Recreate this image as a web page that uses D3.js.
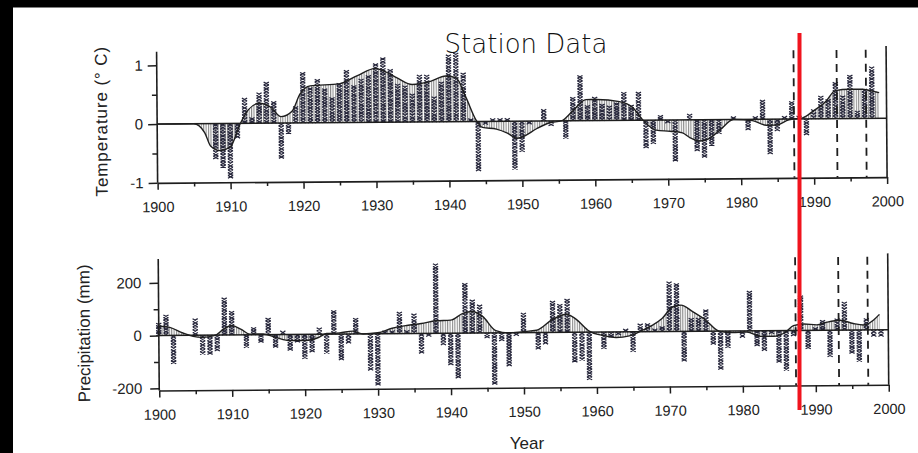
<!DOCTYPE html>
<html>
<head>
<meta charset="utf-8">
<script src="https://cdn.jsdelivr.net/npm/d3@7"></script>
<style>
  body { margin: 0; background: #fff; }
  text { font-family: "Liberation Sans", Arial, sans-serif; fill: #222; }
</style>
</head>
<body>
<svg id="chart" width="918" height="453"></svg>
<script>
// yearly values, 1900..1999
var years = d3.range(1900, 2000);

var tempValues = [
  0, 0, 0, 0, 0, 0, 0, 0, -0.60, -0.75,
  -0.93, -0.25, 0.43, 0.10, 0.52, 0.70, 0.37, -0.60, -0.18, 0.28,
  0.86, 0.60, 0.74, 0.58, 0.43, 0.67, 0.89, 0.63, 0.74, 0.80,
  1.00, 1.10, 0.90, 0.65, 0.62, 0.48, 0.80, 0.80, 0.43, 0.68,
  1.14, 1.17, 0.83, 0.05, -0.84, -0.05, 0.05, 0.05, 0.03, -0.82,
  -0.52, -0.04, 0, 0.20, -0.08, 0, -0.30, 0.40, 0.77, 0.26,
  0.40, 0.28, 0.25, 0.30, 0.48, 0.26, 0.48, -0.47, -0.40, 0.08,
  -0.05, -0.70, 0, 0.10, -0.53, -0.64, -0.44, -0.24, 0, 0.03,
  0, -0.18, 0.04, 0.33, -0.59, -0.20, 0.02, 0.30, 0.05, -0.27,
  0.16, 0.39, 0.33, 0.62, 0.39, 0.74, 0.13, 0.50, 0.88, 0
];

var precipValues = [
  47, 78, -107, 0, 0, 63, -73, -73, -60, 141,
  90, 0, -48, 28, -29, 63, -48, 15, -60, -29,
  -92, -67, 25, -73, 90, -98, -35, 60, 0, -138,
  -195, 5, 12, 82, 13, 75, -75, -5, 264, -44,
  -120, -170, 189, 126, 107, -19, -195, -30, -126, -5,
  75, 0, -63, -44, 119, 107, 126, -113, -107, -180,
  0, -63, -19, -10, 10, -75, 30, 31, 10, 19,
  189, 182, -113, 50, 50, 82, -50, -145, -63, 0,
  -25, 151, -57, -75, -10, -120, -151, -20, 132, -69,
  5, 38, -100, 44, 107, -88, -119, 44, -25, -25
];

// smoothed curves
var tempSmoothYears = [1900, 1905, 1906.5, 1907.3, 1908.6, 1910, 1911.4, 1912.5, 1914, 1915.5,
  1917, 1918.5, 1919.6, 1921, 1925, 1927.5, 1930, 1931, 1933, 1935, 1937.5, 1939.6, 1941,
  1942.4, 1943.7, 1944.6, 1946.5, 1948, 1949.3, 1950.2, 1952, 1953.8, 1955.4, 1957, 1958.8,
  1960.2, 1963.4, 1965.2, 1966.6, 1968.4, 1970.3, 1972, 1973, 1974.4, 1975.5, 1977.1, 1979,
  1981.6, 1983.5, 1984.8, 1986.6, 1988.5, 1989.9, 1991.7, 1993, 1994.9, 1996.7, 1998.6, 1999];
var tempSmooth = [0, 0, -0.15, -0.38, -0.46, -0.40, 0, 0.23, 0.34, 0.28,
  0.11, 0.20, 0.49, 0.63, 0.66, 0.80, 0.92, 0.88, 0.75, 0.64, 0.69, 0.78, 0.75,
  0.40, 0.03, -0.10, -0.13, -0.20, -0.29, -0.26, -0.13, -0.03, 0, 0.17, 0.36,
  0.36, 0.32, 0.22, 0, -0.17, -0.19, -0.22, -0.30, -0.36, -0.33, -0.18, 0,
  -0.02, -0.10, -0.10, -0.01, 0.02, 0.13, 0.30, 0.48, 0.50, 0.50, 0.45, 0.44];

var precipSmoothYears = [1900, 1901.5, 1903.3, 1904.7, 1906, 1907.7, 1908.8, 1910, 1911.3, 1912.5,
  1914.3, 1916, 1918, 1920.2, 1921.8, 1923, 1924.8, 1926.6, 1928, 1930, 1932, 1934, 1936,
  1938, 1940, 1941.7, 1943, 1944.4, 1946.2, 1948, 1949.9, 1951.8, 1954, 1955.9, 1957.2,
  1959, 1960.9, 1962.7, 1964.5, 1966.3, 1967.7, 1969, 1970.5, 1971.6, 1973.2, 1974.9,
  1976.8, 1978.6, 1980.6, 1982.5, 1984.3, 1985.9, 1987, 1988.4, 1990.2, 1991.6, 1993.4,
  1995.2, 1996.6, 1998, 1998.8];
var precipSmooth = [36, 31, 9, -4, -8, -1, 21, 36, 21, 3,
  3, -10, -23, -23, -13, 3, 5, 11, 0, 4, 21, 31, 38,
  48, 50, 75, 82, 63, 9, 0, 4, 9, 50, 69, 50,
  4, -13, -21, -15, 6, 25, 50, 94, 100, 75, 44,
  0, -6, -4, -21, -21, -6, 19, 25, 21, 31, 38,
  25, 19, 38, 59];

var markerYears = [1987.3, 1993.2, 1997.2];
var decadeTicks = [1900, 1910, 1920, 1930, 1940, 1950, 1960, 1970, 1980, 1990, 2000];
var halfDecadeTicks = [1905, 1915, 1925, 1935, 1945, 1955, 1965, 1975, 1985, 1995];
var tempTicks = [-1, 0, 1], tempMinorTicks = [-0.5, 0.5];
var precipTicks = [-200, 0, 200], precipMinorTicks = [-100, 100];

var ink = "#1e1e1e",
    barInk = "#25253a";

var svg = d3.select("#chart");
svg.append("rect").attr("width", 918).attr("height", 453).attr("fill", "#fff");

// vertical hatch used under the smoothed curve
svg.append("defs").append("pattern")
    .attr("id", "vhatch")
    .attr("patternUnits", "userSpaceOnUse")
    .attr("width", 2.4).attr("height", 4)
  .append("line")
    .attr("x1", 0.6).attr("x2", 0.6).attr("y1", 0).attr("y2", 4)
    .attr("stroke", "#444").attr("stroke-width", 0.75);

// the scan is a little tilted
var plot = svg.append("g").attr("transform", "rotate(-0.45,520,230)");

var x = d3.scaleLinear().domain([1900, 2000]).range([158, 887.5]);
var yT = d3.scaleLinear().domain([-1, 1]).range([180, 62.5]);
var yP = d3.scaleLinear().domain([-200, 200]).range([385.5, 280]);

// a column of little x's from the zero line to the value
function xStack(cx, y0, y1) {
  var dir = y1 < y0 ? -1 : 1;
  var len = Math.max(3, Math.abs(y1 - y0));
  var n = Math.max(1, Math.round(len / 2.7));
  var step = len / n;
  var p = "";
  for (var k = 0; k < n; k++) {
    var a = y0 + dir * k * step, b = y0 + dir * (k + 1) * step;
    p += "M" + (cx - 2.6) + "," + a + "L" + (cx + 2.6) + "," + b +
         "M" + (cx + 2.6) + "," + a + "L" + (cx - 2.6) + "," + b;
  }
  return p;
}

function drawPanel(cfg) {
  var y = cfg.y,
      g = plot.append("g"),
      zero = y(0),
      base = y(cfg.axisBottom),
      top = y(cfg.axisTop);

  var smooth = cfg.smoothYears.map(function(d, i) { return [d, cfg.smooth[i]]; });

  // hatched area between smooth curve and zero
  g.append("path")
      .datum(smooth)
      .attr("d", d3.area()
        .x(function(d) { return x(d[0]); })
        .y0(zero)
        .y1(function(d) { return y(d[1]); })
        .curve(d3.curveMonotoneX))
      .attr("fill", "url(#vhatch)");

  // bars
  g.append("g").selectAll("path")
      .data(years.map(function(yr, i) { return { year: yr, v: cfg.values[i] }; })
                 .filter(function(d) { return d.v !== 0; }))
      .enter().append("path")
      .attr("d", function(d) { return xStack(x(d.year), zero, y(d.v)); })
      .attr("fill", "none")
      .attr("stroke", barInk)
      .attr("stroke-width", 1.25);

  // zero line
  g.append("line")
      .attr("x1", x(1900)).attr("x2", x(2000))
      .attr("y1", zero).attr("y2", zero)
      .attr("stroke", ink).attr("stroke-width", 1.5);

  // smooth curve
  g.append("path")
      .datum(smooth)
      .attr("d", d3.line()
        .x(function(d) { return x(d[0]); })
        .y(function(d) { return y(d[1]); })
        .curve(d3.curveMonotoneX))
      .attr("fill", "none")
      .attr("stroke", ink)
      .attr("stroke-width", 1.4);

  // dashed marker lines
  g.selectAll(".marker")
      .data(markerYears)
      .enter().append("line")
      .attr("class", "marker")
      .attr("x1", function(d) { return x(d); })
      .attr("x2", function(d) { return x(d); })
      .attr("y1", y(cfg.markerTop)).attr("y2", base)
      .attr("stroke", ink)
      .attr("stroke-width", 1.8)
      .attr("stroke-dasharray", "8,6");

  // x axis
  var xa = g.append("g").attr("transform", "translate(0," + base + ")")
      .call(d3.axisBottom(x).tickValues(decadeTicks).tickSize(7).tickPadding(12)
        .tickSizeOuter(0).tickFormat(d3.format("d")));
  var xm = g.append("g").attr("transform", "translate(0," + base + ")")
      .call(d3.axisBottom(x).tickValues(halfDecadeTicks).tickSize(4).tickFormat(""));
  xm.select(".domain").remove();

  // y axis (own line, axis only for ticks)
  var ya = g.append("g").attr("transform", "translate(" + x(1900) + ",0)")
      .call(d3.axisLeft(y).tickValues(cfg.ticks).tickSize(9).tickPadding(cfg.pad)
        .tickFormat(function(d) { return String(d); }));
  ya.select(".domain").remove();
  var ym = g.append("g").attr("transform", "translate(" + x(1900) + ",0)")
      .call(d3.axisLeft(y).tickValues(cfg.minorTicks).tickSize(5).tickFormat(""));
  ym.select(".domain").remove();

  g.append("line")
      .attr("x1", x(1900)).attr("x2", x(1900))
      .attr("y1", top).attr("y2", base)
      .attr("stroke", ink).attr("stroke-width", 1.6);
  g.append("line")
      .attr("x1", x(2000)).attr("x2", x(2000))
      .attr("y1", top).attr("y2", base)
      .attr("stroke", ink).attr("stroke-width", 1.6);

  [xa, xm, ya, ym].forEach(function(a) {
    a.selectAll(".domain").attr("stroke", ink).attr("stroke-width", 1.6);
    a.selectAll(".tick line").attr("stroke", ink).attr("stroke-width", 1.5);
  });
  xa.selectAll(".tick text").style("font-size", "14.5px").attr("fill", ink);
  ya.selectAll(".tick text").style("font-size", "15px").attr("fill", ink);

  // axis title
  g.append("text")
      .attr("transform", "translate(" + cfg.labelX + "," + cfg.labelY + ") rotate(-90)")
      .attr("text-anchor", "middle")
      .style("font-size", "17px")
      .style("letter-spacing", cfg.spacing)
      .text(cfg.label);
}

drawPanel({
  y: yT, values: tempValues, smoothYears: tempSmoothYears, smooth: tempSmooth,
  ticks: tempTicks, minorTicks: tempMinorTicks, pad: 5,
  axisBottom: -1, axisTop: 1.23, markerTop: 1.17,
  label: "Temperature (\u00b0 C)", labelX: 108, labelY: 118, spacing: "0.9px"
});

drawPanel({
  y: yP, values: precipValues, smoothYears: precipSmoothYears, smooth: precipSmooth,
  ticks: precipTicks, minorTicks: precipMinorTicks, pad: 8,
  axisBottom: -208, axisTop: 290, markerTop: 278,
  label: "Precipitation (mm)", labelX: 89, labelY: 330, spacing: "0px"
});

svg.append("text")
    .attr("x", 526).attr("y", 53)
    .attr("text-anchor", "middle")
    .style("font-family", "'DejaVu Sans', sans-serif")
    .style("font-weight", 200)
    .style("font-size", "26px")
    .style("fill", "#111")
    .text("Station Data");

svg.append("text")
    .attr("x", 527).attr("y", 449)
    .attr("text-anchor", "middle")
    .style("font-size", "17px")
    .text("Year");

// red marker drawn over the scan
svg.append("rect")
    .attr("x", 797.5).attr("y", 33)
    .attr("width", 4).attr("height", 377)
    .attr("fill", "#f0141e");

// dark scan edges
svg.append("rect").attr("x", 0).attr("y", 0).attr("width", 918).attr("height", 7.5).attr("fill", "#000");
svg.append("rect").attr("x", 0).attr("y", 0).attr("width", 13).attr("height", 453).attr("fill", "#000");
</script>
</body>
</html>
